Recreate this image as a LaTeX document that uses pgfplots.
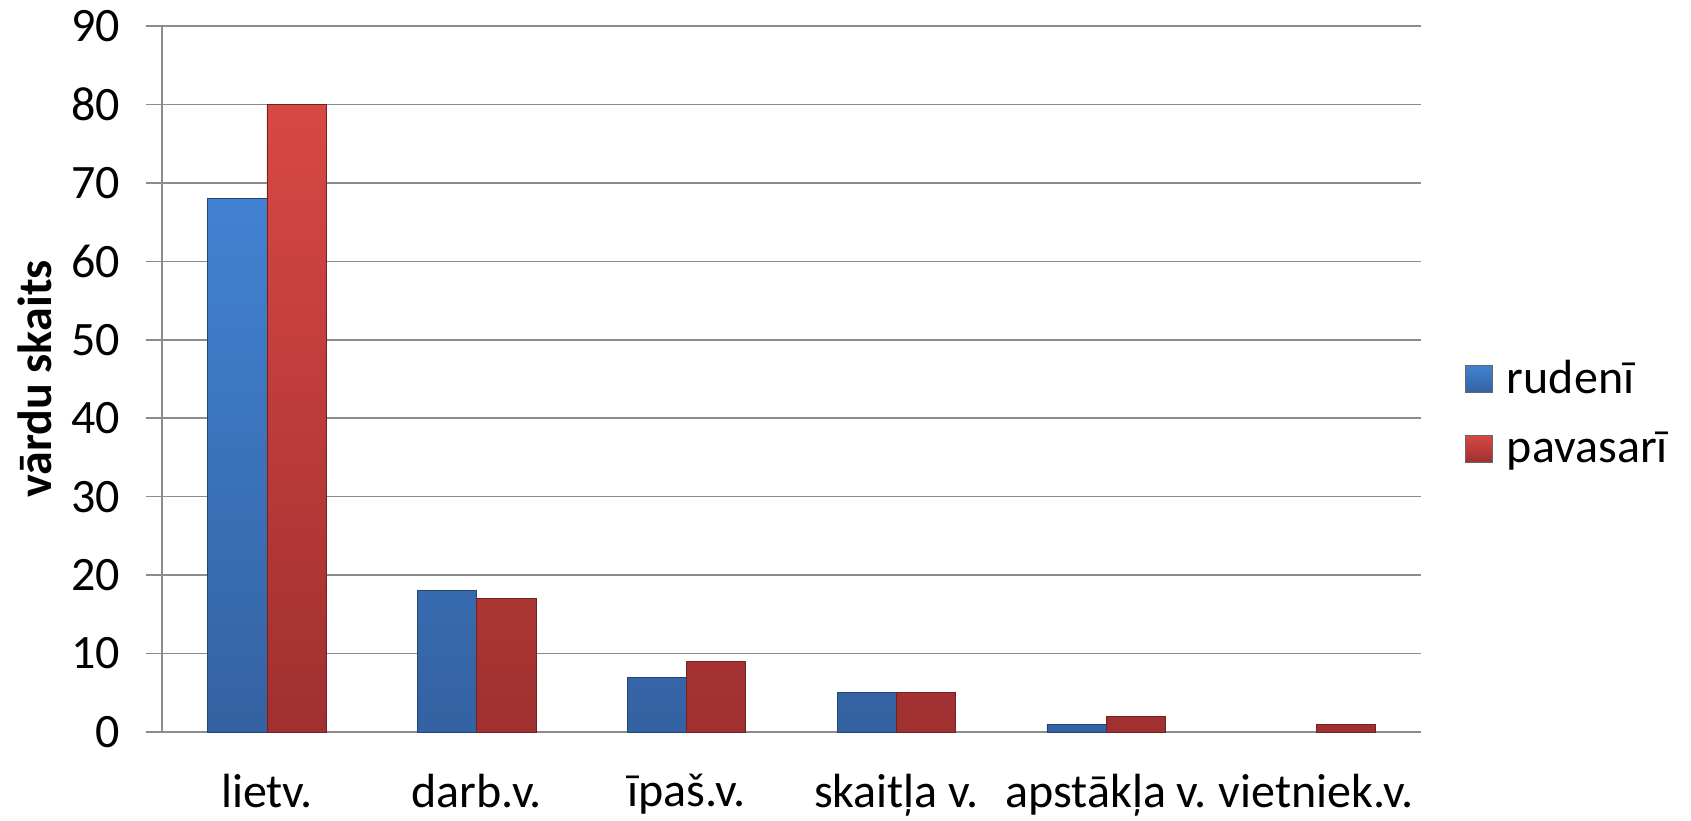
\documentclass[border=0pt]{standalone}
\usepackage{fontspec}
\setmainfont{Carlito}
\usepackage{pgfplots}
\pgfplotsset{compat=1.18}
\definecolor{bluetop}{RGB}{66,130,210}
\definecolor{bluebot}{RGB}{52,98,162}
\definecolor{redtop}{RGB}{216,72,68}
\definecolor{redbot}{RGB}{160,48,48}
\definecolor{gridgray}{RGB}{140,140,140}
\begin{document}
\begin{tikzpicture}
\path[use as bounding box] (-81pt,-44pt) rectangle (764.5pt,366pt);
\begin{axis}[
  at={(0,0)}, anchor=south west,
  scale only axis, width=629.5pt, height=353pt,
  ybar=0pt, bar width=29.65pt,
  xmin=-0.5, xmax=5.5, ymin=0, ymax=90,
  xtick={0,1,2,3,4,5},
  xticklabels={lietv., darb.v., īpaš.v., skaitļa v., apstākļa v., vietniek.v.},
  ytick={0,10,...,90},
  /pgf/number format/assume math mode=true,
  font=\fontsize{24}{29}\selectfont,
  ymajorgrids, grid style={gridgray, line width=0.8pt},
  axis x line*=bottom, axis y line*=left,
  axis line style={gridgray, line width=0.8pt},
  x axis line style={draw=none},
  major tick length=8pt,
  ytick style={gridgray, line width=0.8pt},
  xtick style={draw=none},
  tick align=outside,
  yticklabel style={xshift=-9.5pt},
  xticklabel style={inner sep=0pt, yshift=-13pt},
  ylabel={\bfseries vārdu skaits},
  ylabel style={at={(axis description cs:-0.101,0.5)}, anchor=center, rotate=0},
  legend style={draw=none, at={(1.03,0.452)}, anchor=west, font=\fontsize{24}{29}\selectfont,
    row sep=13.5pt, legend cell align=left,
    /tikz/every odd column/.append style={column sep=5pt}},
  legend image code/.code={\draw[#1, draw=black!60] (0pt,-6.75pt) rectangle (13.5pt,6.75pt);},
  clip=false,
]
\addplot[top color=bluetop, bottom color=bluebot, draw=bluebot!70!black, line width=0.4pt]
  coordinates {(0,68) (1,18) (2,7) (3,5) (4,1)};
\addplot[top color=redtop, bottom color=redbot, draw=redbot!70!black, line width=0.4pt]
  coordinates {(0,80) (1,17) (2,9) (3,5) (4,2) (5,1)};
\legend{rudenī, pavasarī}
\end{axis}
\end{tikzpicture}
\end{document}
